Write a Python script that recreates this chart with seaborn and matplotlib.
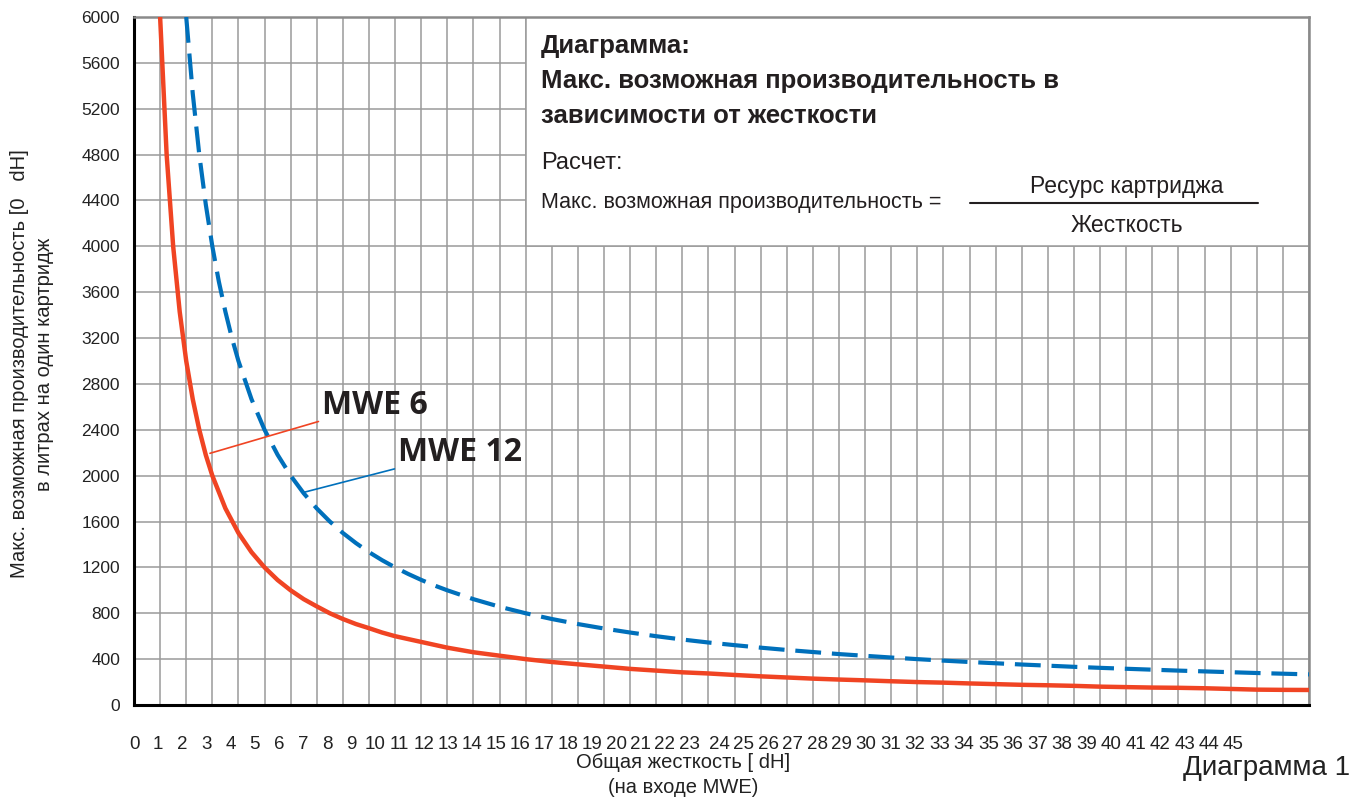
import matplotlib
matplotlib.use("Agg")
import matplotlib.pyplot as plt
import seaborn as sns
import pandas as pd
from matplotlib.patches import Rectangle

# ---- data ----
hardness_mwe6 = [1, 1.25, 1.5, 1.75, 2, 2.25, 2.5, 2.75, 3, 3.5, 4, 4.5, 5, 5.5,
                 6, 6.5, 7, 7.5, 8, 8.5, 9, 9.5, 10,
                 11, 12, 13, 14, 15, 16, 17, 18, 19, 20,
                 21, 22, 23, 24, 25, 26, 27, 28, 29, 30,
                 31, 32, 33, 34, 35, 36, 37, 38, 39, 40,
                 41, 42, 43, 44, 45]
capacity_mwe6 = [6000, 4800, 4000, 3430, 3000, 2667, 2400, 2180, 2000, 1715,
                 1500, 1333, 1200, 1090, 1000, 923, 860, 800, 750, 706,
                 670, 632, 600,
                 550, 500, 460, 430, 400, 375, 355, 335, 315, 300,
                 285, 275, 262, 250, 240, 230, 222, 215, 207, 200,
                 195, 188, 182, 176, 172, 167, 160, 156, 152, 150,
                 146, 140, 134, 132, 131]
hardness_mwe12 = [2, 2.25, 2.5, 2.75, 3, 3.25, 3.5, 3.75, 4, 4.5, 5, 5.5, 6,
                  6.5, 7, 7.5, 8, 8.5, 9, 9.5, 10, 10.5, 11, 11.5, 12,
                  13, 14, 15, 16, 17, 18, 19, 20,
                  21, 22, 23, 24, 25, 26, 27, 28, 29, 30,
                  31, 32, 33, 34, 35, 36, 37, 38, 39, 40,
                  41, 42, 43, 44, 45]
capacity_mwe12 = [6000, 5333, 4800, 4364, 4000, 3692, 3430, 3200, 3000, 2667,
                  2400, 2182, 2000, 1846, 1714, 1600, 1500, 1412, 1333, 1263,
                  1200, 1143, 1091, 1043, 1000,
                  923, 857, 800, 750, 706, 667, 632, 600,
                  571, 545, 522, 500, 480, 462, 444, 429, 414, 400,
                  387, 375, 364, 353, 343, 333, 324, 316, 308, 300,
                  293, 286, 279, 273, 267]
y_ticks = list(range(0, 6001, 400))
x_tick_labels = [str(k) for k in range(0, 46)]

df6 = pd.DataFrame({"x": hardness_mwe6, "y": capacity_mwe6})
df12 = pd.DataFrame({"x": hardness_mwe12, "y": capacity_mwe12})

sns.set_theme(style="white")
plt.rcParams["font.family"] = ["Liberation Sans", "DejaVu Sans"]

W, H = 1369, 800
fig = plt.figure(figsize=(W / 100, H / 100), dpi=100)
ax = fig.add_axes([134 / W, 1 - 705 / H, (1309 - 134) / W, (705 - 17) / H])

RED = "#f04423"
BLUE = "#0070bb"
GRID = "#9a9a9a"
TXT = "#231f20"

sns.lineplot(data=df6, x="x", y="y", ax=ax, color=RED, lw=3.2, zorder=3)
sns.lineplot(data=df12, x="x", y="y", ax=ax, color=BLUE, lw=3.0, zorder=3)
ax.lines[-1].set_dashes((6.2, 2.6))

ax.set_xlim(0, 45)
ax.set_ylim(0, 6000)

# grid
ax.set_xticks(range(0, 46), minor=True)
ax.set_yticks(y_ticks)
ax.set_yticklabels([str(v) for v in y_ticks], fontsize=12.5, color="#222222")
ax.grid(False)
ax.grid(which="minor", axis="x", color=GRID, lw=1.1)
ax.grid(which="major", axis="y", color=GRID, lw=1.1)
ax.set_axisbelow(True)

# x tick labels (positioned as in the reference row of numbers)
pos = []
for k in range(46):
    if k <= 23:
        px = 24.13 * k
    else:
        px = (719 - 134) + 24.5 * (k - 24)
    pos.append(px / 26.11)
ax.set_xticks(pos)
ax.set_xticklabels(x_tick_labels, fontsize=13.5, color="#222222")
ax.tick_params(axis="x", which="both", length=0, pad=22)
ax.tick_params(axis="y", length=0, pad=10)
ax.set_xlabel("")
ax.set_ylabel("")

for s in ["left", "bottom"]:
    ax.spines[s].set_color("black")
    ax.spines[s].set_linewidth(2.2)
for s in ["top", "right"]:
    ax.spines[s].set_color("#8a8a8a")
    ax.spines[s].set_linewidth(1.8)

# white info box
ax.add_patch(Rectangle((15, 4000), 30, 2000, facecolor="white",
                       edgecolor=GRID, lw=1.1, zorder=1))

def ft(x, y, s, **kw):
    fig.text(x / W, 1 - y / H, s, **kw)

ft(541, 46, "Диаграмма:", fontsize=18.5, weight="bold", color=TXT, va="center")
ft(541, 81, "Макс. возможная производительность в", fontsize=18.5, weight="bold",
   color=TXT, va="center")
ft(541, 116, "зависимости от жесткости", fontsize=18.5, weight="bold",
   color=TXT, va="center")
ft(541, 163, "Расчет:", fontsize=17, color=TXT, va="center")
ft(541, 203, "Макс. возможная производительность =", fontsize=15.5, color=TXT,
   va="center")
ft(1127, 186, "Ресурс картриджа", fontsize=16.5, color=TXT, va="center", ha="center")
ft(1127, 226, "Жесткость", fontsize=16.5, color=TXT, va="center", ha="center")
fig.add_artist(plt.Line2D([970 / W, 1258 / W], [1 - 203 / H, 1 - 203 / H],
                          color=TXT, lw=1.5))

# series labels with leader lines
ax.annotate("MWE 6", xy=(2.91, 2195), xytext=(7.19, 2616),
            fontsize=23, weight="bold", color=TXT, va="center",
            family=["Open Sans", "DejaVu Sans"],
            arrowprops=dict(arrowstyle="-", color=RED, lw=1.2,
                            shrinkA=0, shrinkB=0))
ax.annotate("MWE 12", xy=(6.51, 1855), xytext=(10.1, 2206),
            fontsize=23, weight="bold", color=TXT, va="center",
            family=["Open Sans", "DejaVu Sans"],
            arrowprops=dict(arrowstyle="-", color=BLUE, lw=1.2,
                            shrinkA=0, shrinkB=0))

# axis titles
ft(32, 364, "Макс. возможная производительность [0   dH]\nв литрах на один картридж",
   rotation=90, fontsize=14.5, ha="center", va="center", multialignment="center",
   linespacing=1.45, color="#222222")
ft(683, 775, "Общая жесткость [ dH]\n(на входе MWE)", fontsize=14.5, ha="center",
   va="center", multialignment="center", linespacing=1.35, color="#222222")
ft(1183, 768, "Диаграмма 1", fontsize=20, ha="left", va="center", color="#222222")

fig.savefig("out.png", dpi=100)
